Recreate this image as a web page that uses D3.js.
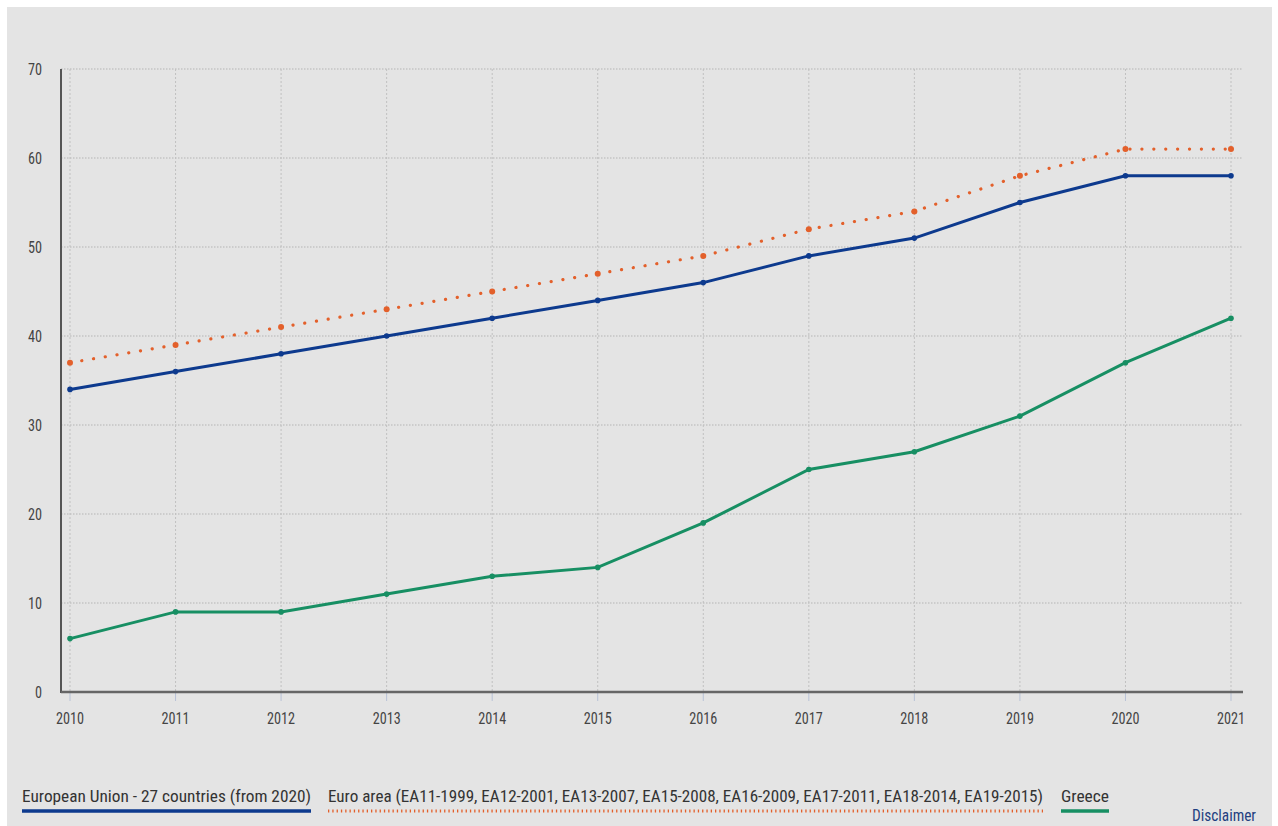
<!DOCTYPE html>
<html><head><meta charset="utf-8">
<script src="https://cdn.jsdelivr.net/npm/d3@7"></script>
<style>
html,body{margin:0;padding:0;background:#fff;}
svg{display:block;}
text{font-family:"Liberation Sans Narrow","Roboto Condensed",Roboto,sans-serif;}
</style></head><body>
<svg id="c" width="1278" height="826"></svg>
<script>
const years = [2010,2011,2012,2013,2014,2015,2016,2017,2018,2019,2020,2021];
const euValues = [34,36,38,40,42,44,46,49,51,55,58,58];
const euroAreaValues = [37,39,41,43,45,47,49,52,54,58,61,61];
const greeceValues = [6,9,9,11,13,14,19,25,27,31,37,42];
const yTicks = [0,10,20,30,40,50,60,70];
const seriesNames = ["European Union - 27 countries (from 2020)","Euro area (EA11-1999, EA12-2001, EA13-2007, EA15-2008, EA16-2009, EA17-2011, EA18-2014, EA19-2015)","Greece"];
const seriesColors = ["#0d3a8e","#e3602b","#178f63"];

const svg = d3.select("#c");
svg.append("rect").attr("x",7).attr("y",7).attr("width",1265).attr("height",819).attr("fill","#e4e4e4");

const x = d3.scaleLinear().domain([2010,2021]).range([70,1231]);
const y = d3.scaleLinear().domain([0,70]).range([692,69]);
const left = 61, right = 1243;

const g = svg.append("g");
g.selectAll(".hg").data(yTicks.filter(d=>d>0)).join("line")
  .attr("x1",left).attr("x2",right).attr("y1",d=>y(d)).attr("y2",d=>y(d))
  .attr("stroke","#b4b4b4").attr("stroke-width",1.2).attr("stroke-dasharray","1.5,1.5");
g.selectAll(".vg").data(years).join("line")
  .attr("x1",d=>x(d)).attr("x2",d=>x(d)).attr("y1",y(70)).attr("y2",y(0))
  .attr("stroke","#c0c0c0").attr("stroke-width",1).attr("stroke-dasharray","2,2");

g.selectAll(".yl").data(yTicks).join("text")
  .attr("x",42).attr("y",d=>y(d)+6).attr("text-anchor","end")
  .attr("font-size",16).attr("fill","#444")
  .attr("textLength",d=>String(d).length*7).attr("lengthAdjust","spacingAndGlyphs").text(d=>d);

g.selectAll(".xt").data(years).join("line")
  .attr("x1",d=>x(d)).attr("x2",d=>x(d)).attr("y1",y(0)).attr("y2",y(0)+9)
  .attr("stroke","#b8c2d6").attr("stroke-width",1);
g.selectAll(".xl").data(years).join("text")
  .attr("x",d=>x(d)).attr("y",y(0)+32).attr("text-anchor","middle")
  .attr("font-size",16).attr("fill","#444")
  .attr("textLength",28).attr("lengthAdjust","spacingAndGlyphs").text(d=>d);

g.append("line").attr("x1",left).attr("x2",left).attr("y1",y(70)).attr("y2",y(0)+1).attr("stroke","#555").attr("stroke-width",2);
g.append("line").attr("x1",left).attr("x2",right).attr("y1",y(0)).attr("y2",y(0)).attr("stroke","#666").attr("stroke-width",2.5);

const line = d3.line().x((d,i)=>x(years[i])).y(d=>y(d));

[[greeceValues,2],[euValues,0]].forEach(([vals,ci])=>{
  svg.append("path").attr("d",line(vals)).attr("fill","none")
    .attr("stroke",seriesColors[ci]).attr("stroke-width",3);
  svg.selectAll(null).data(vals).join("circle")
    .attr("cx",(d,i)=>x(years[i])).attr("cy",d=>y(d)).attr("r",2.8).attr("fill",seriesColors[ci]);
});
svg.append("path").attr("d",line(euroAreaValues)).attr("fill","none")
  .attr("stroke",seriesColors[1]).attr("stroke-width",3.2)
  .attr("stroke-dasharray","0.1,11.8").attr("stroke-linecap","round");
svg.selectAll(null).data(euroAreaValues).join("circle")
  .attr("cx",(d,i)=>x(years[i])).attr("cy",d=>y(d)).attr("r",3).attr("fill",seriesColors[1]);

const leg = [
  {x:22, w:289},
  {x:328, w:715},
  {x:1061, w:48}
];
leg.forEach((l,i)=>{
  svg.append("text").attr("x",l.x).attr("y",802).attr("font-size",17).attr("fill","#333")
    .attr("textLength",l.w).attr("lengthAdjust","spacingAndGlyphs").text(seriesNames[i]);
  const ln = svg.append("line").attr("x1",l.x).attr("x2",l.x+l.w).attr("y1",811).attr("y2",811)
    .attr("stroke",seriesColors[i]);
  if(i===1) ln.attr("stroke-width",3).attr("stroke-dasharray","1.3,3");
  else ln.attr("stroke-width",3.5);
});
svg.append("text").attr("x",1192).attr("y",821).attr("font-size",16).attr("fill","#1f3f80")
  .attr("textLength",64).attr("lengthAdjust","spacingAndGlyphs").text("Disclaimer");
</script>
</body></html>
